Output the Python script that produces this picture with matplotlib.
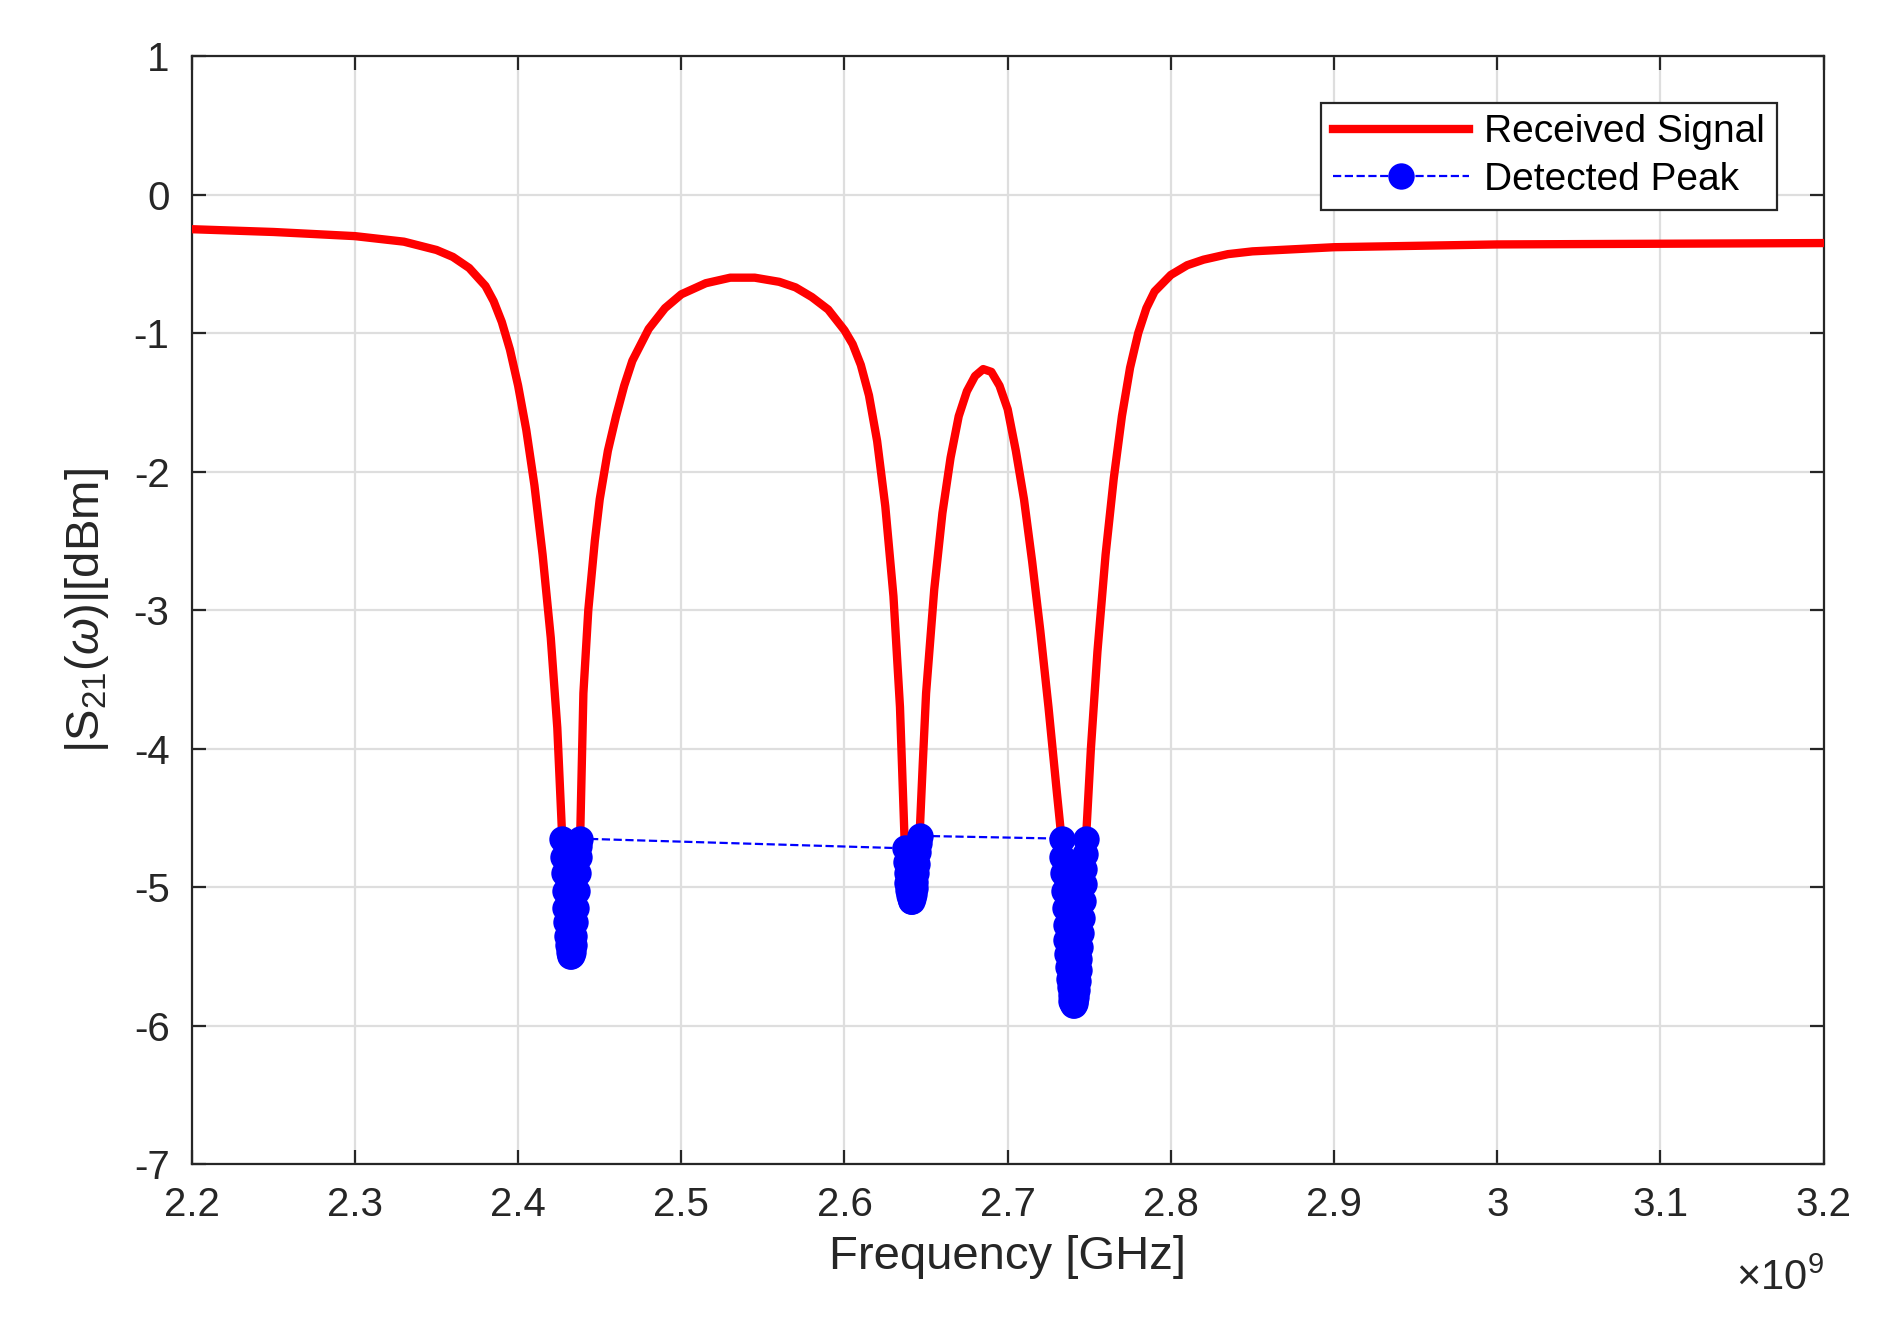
import matplotlib
matplotlib.use("Agg")
import matplotlib.pyplot as plt
import numpy as np

plt.rcParams['font.family'] = ['Liberation Sans', 'DejaVu Sans']
plt.rcParams['mathtext.fontset'] = 'custom'
plt.rcParams['mathtext.rm'] = 'Liberation Sans'
plt.rcParams['mathtext.it'] = 'Liberation Sans:italic'

# shoulders and lobes (GHz, dB)
seg_a_f = [2.2, 2.25, 2.3, 2.33, 2.35, 2.36, 2.37, 2.38, 2.385, 2.39, 2.395, 2.40, 2.405,
           2.41, 2.415, 2.42, 2.424]
seg_a_y = [-0.25, -0.27, -0.30, -0.34, -0.40, -0.45, -0.53, -0.66, -0.77, -0.92, -1.12, -1.38,
           -1.70, -2.10, -2.60, -3.20, -3.85]
dip1_y = [-4.65, -4.78, -4.90, -5.03, -5.15, -5.25, -5.35, -5.42, -5.47, -5.49, -5.50, -5.50,
          -5.49, -5.47, -5.42, -5.35, -5.25, -5.15, -5.03, -4.90, -4.78, -4.70, -4.65]
seg_b_f = [2.44, 2.443, 2.447, 2.45, 2.455, 2.46, 2.465, 2.47, 2.48, 2.49, 2.50, 2.515, 2.53,
           2.545, 2.56, 2.57, 2.58, 2.59, 2.60, 2.605, 2.61, 2.615, 2.62, 2.625, 2.63, 2.634]
seg_b_y = [-3.6, -3.0, -2.5, -2.2, -1.85, -1.6, -1.38, -1.2, -0.97, -0.82, -0.72, -0.64, -0.60,
           -0.60, -0.63, -0.67, -0.74, -0.83, -0.98, -1.08, -1.23, -1.45, -1.78, -2.25, -2.90, -3.7]
dip2_y = [-4.72, -4.82, -4.90, -4.97, -5.02, -5.06, -5.08, -5.10, -5.10, -5.10, -5.08, -5.05,
          -5.01, -4.96, -4.90, -4.83, -4.75, -4.68, -4.63]
seg_c_f = [2.648, 2.65, 2.655, 2.66, 2.665, 2.67, 2.675, 2.68, 2.685, 2.69, 2.695, 2.70, 2.705,
           2.71, 2.715, 2.72, 2.725, 2.73]
seg_c_y = [-4.1, -3.6, -2.85, -2.3, -1.9, -1.6, -1.42, -1.31, -1.26, -1.28, -1.38, -1.55, -1.85,
           -2.2, -2.65, -3.15, -3.7, -4.3]
dip3_y = [-4.65, -4.78, -4.90, -5.03, -5.15, -5.27, -5.38, -5.48, -5.58, -5.66, -5.72, -5.78,
          -5.82, -5.84, -5.85, -5.85, -5.84, -5.82, -5.79, -5.74, -5.68, -5.60, -5.52, -5.43,
          -5.33, -5.22, -5.10, -4.98, -4.87, -4.76, -4.65]
seg_d_f = [2.751, 2.755, 2.76, 2.765, 2.77, 2.775, 2.78, 2.785, 2.79, 2.80, 2.81, 2.82, 2.835,
           2.85, 2.9, 3.0, 3.1, 3.2]
seg_d_y = [-4.0, -3.3, -2.6, -2.05, -1.6, -1.25, -1.0, -0.82, -0.70, -0.58, -0.51, -0.47, -0.43,
           -0.41, -0.38, -0.36, -0.355, -0.35]
dip1_start, dip2_start, dip3_start = 2.427, 2.637, 2.733
dip_step = 0.0005
threshold_db = -4.6

def dip_f(start, n):
    return list(start + dip_step * np.arange(n))

f = np.array(seg_a_f + dip_f(dip1_start, len(dip1_y)) + seg_b_f + dip_f(dip2_start, len(dip2_y))
             + seg_c_f + dip_f(dip3_start, len(dip3_y)) + seg_d_f) * 1e9
y = np.array(seg_a_y + dip1_y + seg_b_y + dip2_y + seg_c_y + dip3_y + seg_d_y)
mask = y <= threshold_db

fig = plt.figure(figsize=(9.4, 6.675), dpi=200)
ax = fig.add_axes([0.102, 0.128, 0.868, 0.830])
ax.plot(f, y, color='red', lw=3.0, label='Received Signal', zorder=3)
ax.plot(f[mask], y[mask], color='blue', ls='--', lw=0.8, marker='o', ms=8.5,
        markerfacecolor='blue', markeredgecolor='blue', label='Detected Peak', zorder=4)

ax.set_xlim(2.2e9, 3.2e9)
ax.set_ylim(-7, 1)
xt = np.arange(2.2, 3.21, 0.1)
ax.set_xticks(xt * 1e9)
ax.set_xticklabels(['2.2', '2.3', '2.4', '2.5', '2.6', '2.7', '2.8', '2.9', '3', '3.1', '3.2'])
ax.set_yticks(range(-7, 2))
ax.set_yticklabels(['-7', '-6', '-5', '-4', '-3', '-2', '-1', '0', '1'])
ax.grid(True, color='#dedede', lw=0.8)
ax.set_axisbelow(True)
ax.tick_params(direction='in', top=True, right=True, labelsize=14.5, colors='#262626',
               length=5, pad=8)
for s in ax.spines.values():
    s.set_color('#262626')
    s.set_linewidth(0.8)
ax.set_xlabel('Frequency [GHz]', fontsize=17, color='#262626', labelpad=4)
ax.set_ylabel(r'$|\mathrm{S}_{21}(\omega)|$[dBm]', fontsize=17, color='#262626', labelpad=8)
ax.text(1.0, -0.085, r'$\times10^9$', transform=ax.transAxes, ha='right', va='top',
        fontsize=15, color='#262626')
leg = ax.legend(loc='upper right', fontsize=14, fancybox=False, framealpha=1,
                edgecolor='#262626', handlelength=3.5, borderaxespad=1.2,
                labelspacing=0.3, borderpad=0.3, handletextpad=0.4)
leg.get_frame().set_linewidth(0.8)
fig.savefig('out.png', dpi=200)
